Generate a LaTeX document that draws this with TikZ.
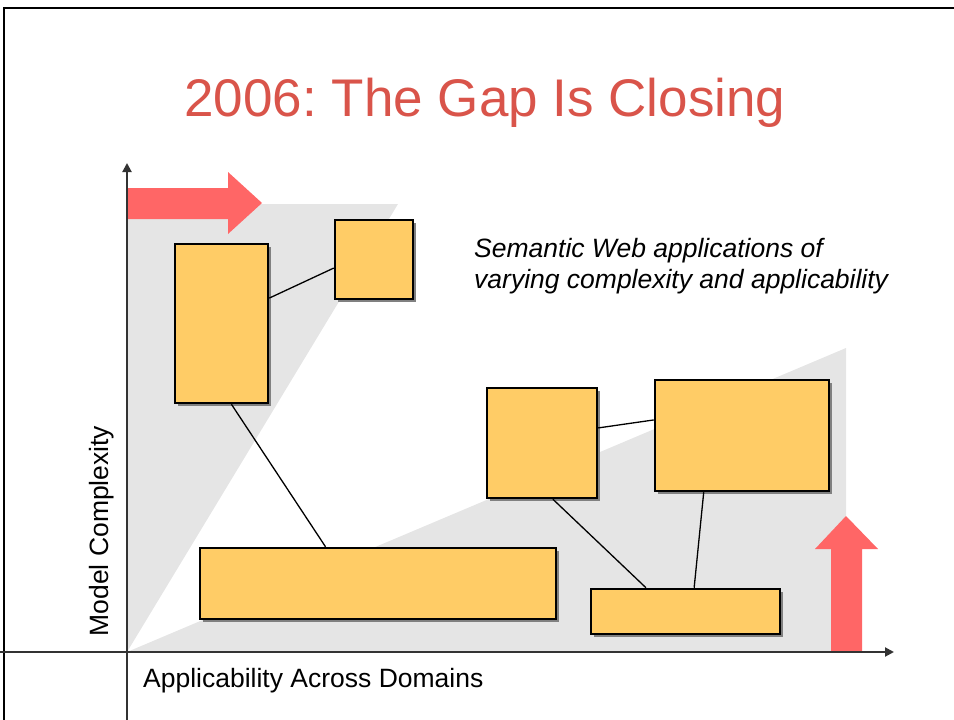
\documentclass[tikz,border=0pt]{standalone}
\usepackage{fontspec}
\setmainfont{Liberation Sans}
\usetikzlibrary{shadows,arrows.meta}
\definecolor{boxfill}{HTML}{FFCC66}
\definecolor{wedge}{HTML}{E5E5E5}
\definecolor{pointer}{HTML}{FF6666}
\definecolor{axisgray}{HTML}{333333}
\definecolor{titlered}{HTML}{D9544A}
\frenchspacing
\begin{document}
\begin{tikzpicture}[x=1pt,y=-1pt,
  appbox/.style={draw=black, line width=2.5pt, fill=boxfill, inner sep=0pt,
    drop shadow={shadow xshift=3pt, shadow yshift=-3pt, fill=black!50, opacity=1}},
  link/.style={draw=black, line width=1.3pt},
  axisline/.style={draw=axisgray, line width=2pt, -{Triangle[length=9pt,width=9pt]}},
  label/.style={inner sep=0pt, font=\fontsize{26.5}{31}\selectfont}]
\useasboundingbox (0,0) rectangle (954,720);
\clip (0,0) rectangle (954,720);
% slide frame
\draw[line width=2.5pt] (4,740) -- (4,8) -- (970,8);
% title
\node[inner sep=0pt, anchor=base, text=titlered, font=\fontsize{53}{60}\selectfont]
  (title) at (485,116) {2006: The Gap Is Closing};
% shaded regions
\fill[wedge] (127,652) -- (127,204) -- (398,204) -- cycle;
\fill[wedge] (127,652) -- (846,348) -- (846,652) -- cycle;
% big arrows
\fill[pointer] (127,188) -- (228,188) -- (228,172) -- (262,203) -- (228,234) -- (228,219) -- (127,219) -- cycle;
\fill[pointer] (831,652) -- (831,549) -- (815,549) -- (846,516) -- (878,549) -- (862,549) -- (862,652) -- cycle;
% axes
\coordinate (ybot) at (127,720);
\coordinate (ytop) at (127,163);
\coordinate (xleft) at (0,652);
\coordinate (xright) at (894,652);
\draw[axisline] (ybot) -- (ytop);
\draw[axisline] (xleft) -- (xright);
% axis labels
\node[label, anchor=base west] (xlab) at (143,687) {Applicability Across Domains};
\node[label, anchor=base, rotate=90] (ylab) at (108,531) {Model Complexity};
% caption
\node[label, anchor=north west, align=left, font=\fontsize{26.5}{31}\selectfont\itshape]
  (caption) at (474,238) {Semantic Web applications of\\varying complexity and applicability};
% applications
\node[appbox, minimum width=93pt, minimum height=159pt] (b1) at (221.5,323.5) {};
\node[appbox, minimum width=78pt, minimum height=79pt] (b2) at (374,259.5) {};
\node[appbox, minimum width=356pt, minimum height=71pt] (b3) at (378,583.5) {};
\node[appbox, minimum width=110pt, minimum height=110pt] (b4) at (542,443) {};
\node[appbox, minimum width=174pt, minimum height=111pt] (b5) at (742,435.5) {};
\node[appbox, minimum width=189pt, minimum height=45pt] (b6) at (685.5,611.5) {};
% links
\draw[link] (b1.28.2) -- (b2.192);
\draw[link] (b1.-83.3) -- (b3.145.4);
\draw[link] (b4.15.9) -- (b5.170);
\draw[link] (b4.-79.9) -- (b6.149.9);
\draw[link] (b5.-124.6) -- (b6.70.1);
\end{tikzpicture}
\end{document}
